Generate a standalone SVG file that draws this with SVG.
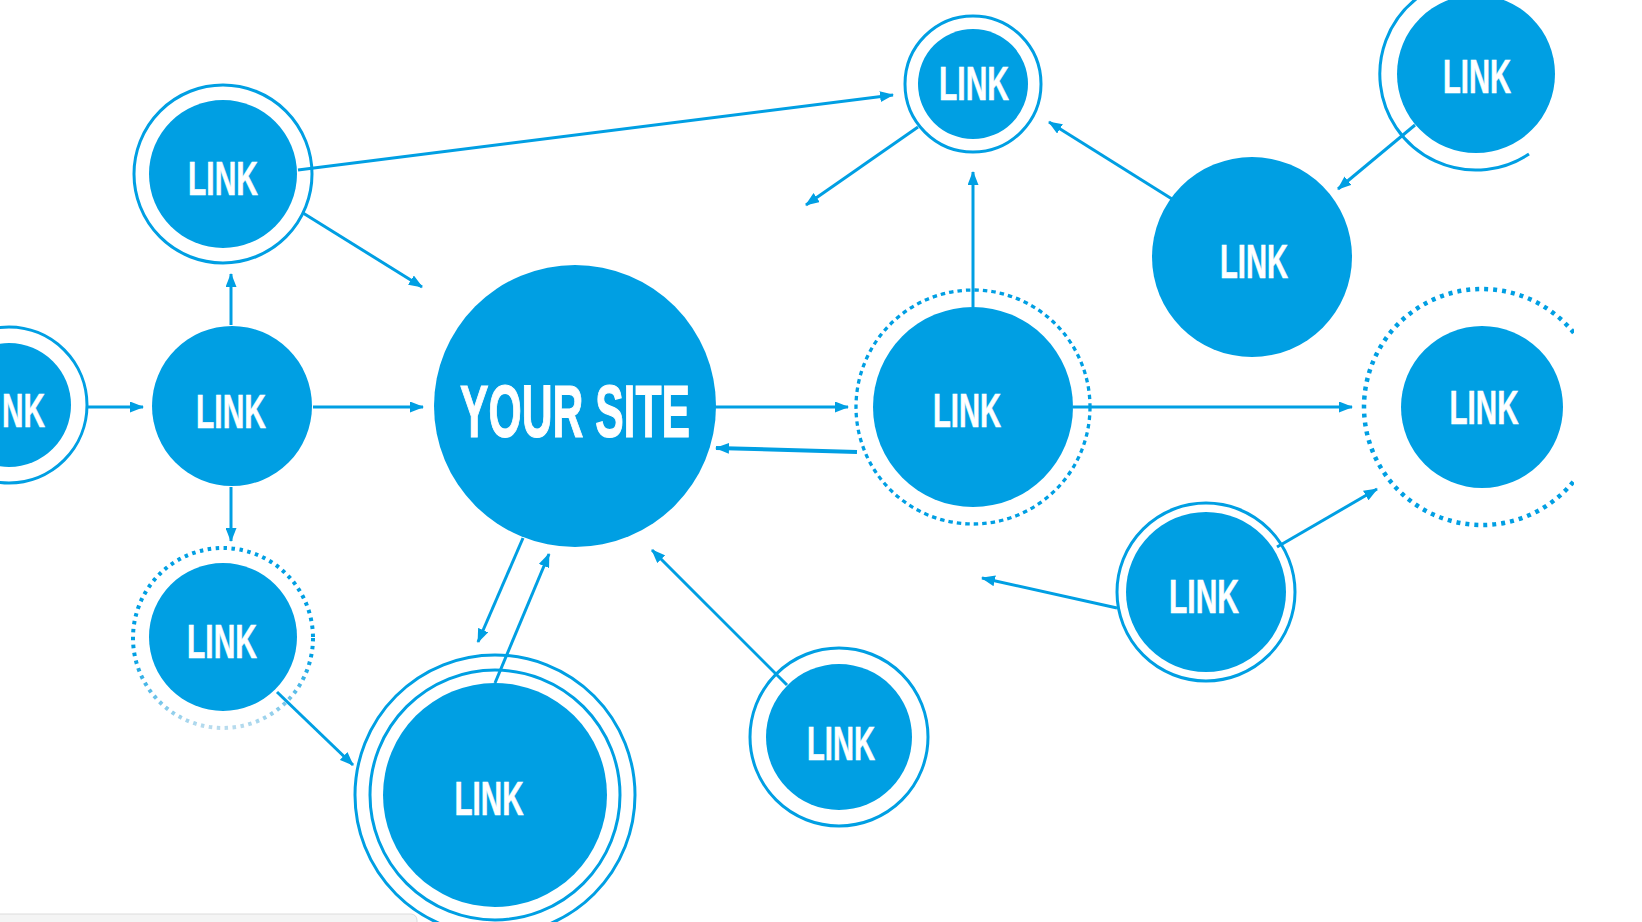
<svg xmlns="http://www.w3.org/2000/svg" width="1642" height="922" viewBox="0 0 1642 922">
  <style>
    .fill { fill: #009fe3; }
    .ring { fill: none; stroke: #009fe3; stroke-width: 3; }
    .dots { fill: none; stroke: #009fe3; stroke-width: 4.5; stroke-dasharray: 4 5; }
    .dash { fill: none; stroke: #009fe3; stroke-width: 3.3; stroke-dasharray: 4.5 4; }
    .lbl { font-family: "Liberation Sans", Arial, sans-serif; font-weight: bold; font-size: 49px; fill: #ffffff; stroke: #ffffff; stroke-width: 0.6; text-anchor: middle; }
    .big { font-size: 75px; stroke-width: 1.2; }
    .conn line { stroke: #009fe3; stroke-width: 3; marker-end: url(#arr); }
  </style>
  <defs>
    <marker id="arr" viewBox="0 0 14 11" refX="13" refY="5.5" markerWidth="14" markerHeight="11" markerUnits="userSpaceOnUse" orient="auto">
      <path d="M0,0 L14,5.5 L0,11 z" fill="#009fe3"/>
    </marker>
    <linearGradient id="fade" x1="0" y1="0" x2="0" y2="1">
      <stop offset="0" stop-color="#009fe3"/>
      <stop offset="0.6" stop-color="#009fe3"/>
      <stop offset="1" stop-color="#b9dcee"/>
    </linearGradient>
    <clipPath id="edge">
      <rect x="0" y="0" width="1574" height="922"/>
    </clipPath>
  </defs>
  <rect x="0" y="0" width="1642" height="922" fill="#ffffff"/>

  <g id="connectors" class="conn">
    <line x1="298" y1="170" x2="893" y2="95"/>
    <line x1="303" y1="213" x2="422" y2="287"/>
    <line x1="231" y1="325" x2="231" y2="274"/>
    <line x1="87" y1="407" x2="143" y2="407"/>
    <line x1="313" y1="407" x2="423" y2="407"/>
    <line x1="231" y1="487" x2="231" y2="541"/>
    <line x1="277" y1="692" x2="353" y2="765"/>
    <line x1="523" y1="538" x2="478" y2="642"/>
    <line x1="495" y1="683" x2="549" y2="554"/>
    <line x1="787" y1="685" x2="652" y2="550"/>
    <line x1="715" y1="407" x2="848" y2="407"/>
    <line x1="857" y1="452" x2="716" y2="448" style="stroke-width:4"/>
    <line x1="973" y1="307" x2="973" y2="172"/>
    <line x1="918" y1="127" x2="806" y2="205"/>
    <line x1="1172" y1="199" x2="1049" y2="122"/>
    <line x1="1415" y1="125" x2="1338" y2="189"/>
    <line x1="1073" y1="407" x2="1352" y2="407"/>
    <line x1="1277" y1="547" x2="1377" y2="489"/>
    <line x1="1117" y1="608" x2="982" y2="578"/>
  </g>

  <g id="node-a">
    <circle class="ring" cx="223" cy="174" r="89"/>
    <circle class="fill" cx="223" cy="174" r="74"/>
    <text class="lbl" x="223" y="195" textLength="70" lengthAdjust="spacingAndGlyphs">LINK</text>
  </g>
  <g id="node-b">
    <circle class="ring" cx="9" cy="405" r="78"/>
    <circle class="fill" cx="9" cy="405" r="62"/>
    <text class="lbl" x="2" y="427" style="text-anchor:start" textLength="43" lengthAdjust="spacingAndGlyphs">NK</text>
  </g>
  <g id="node-c">
    <circle class="fill" cx="232" cy="406" r="80"/>
    <text class="lbl" x="231" y="428" textLength="70" lengthAdjust="spacingAndGlyphs">LINK</text>
  </g>
  <g id="node-your-site">
    <circle class="fill" cx="575" cy="406" r="141"/>
    <text class="lbl big" x="575" y="437" textLength="230" lengthAdjust="spacingAndGlyphs">YOUR SITE</text>
  </g>
  <g id="node-e">
    <circle cx="223" cy="638" r="90" fill="none" stroke="url(#fade)" stroke-width="4" stroke-dasharray="3.5 4.5"/>
    <circle class="fill" cx="223" cy="637" r="74"/>
    <text class="lbl" x="222" y="658" textLength="70" lengthAdjust="spacingAndGlyphs">LINK</text>
  </g>
  <g id="node-f">
    <circle class="ring" cx="495" cy="795" r="140"/>
    <circle class="ring" cx="495" cy="795" r="125"/>
    <circle class="fill" cx="495" cy="795" r="112"/>
    <text class="lbl" x="489" y="815" textLength="69" lengthAdjust="spacingAndGlyphs">LINK</text>
  </g>
  <g id="node-g">
    <circle class="ring" cx="839" cy="737" r="89"/>
    <circle class="fill" cx="839" cy="737" r="73"/>
    <text class="lbl" x="841" y="760" textLength="68" lengthAdjust="spacingAndGlyphs">LINK</text>
  </g>
  <g id="node-h">
    <circle class="ring" cx="1206" cy="592" r="89"/>
    <circle class="fill" cx="1206" cy="592" r="80"/>
    <text class="lbl" x="1204" y="613" textLength="70" lengthAdjust="spacingAndGlyphs">LINK</text>
  </g>
  <g id="node-i">
    <circle class="ring" cx="973" cy="84" r="68"/>
    <circle class="fill" cx="973" cy="84" r="55"/>
    <text class="lbl" x="974" y="100" textLength="70" lengthAdjust="spacingAndGlyphs">LINK</text>
  </g>
  <g id="node-j">
    <path class="ring" d="M1529,154 A96,96 0 1,1 1509,-16"/>
    <circle class="fill" cx="1476" cy="74" r="79"/>
    <text class="lbl" x="1477" y="93" textLength="68" lengthAdjust="spacingAndGlyphs">LINK</text>
  </g>
  <g id="node-k">
    <circle class="fill" cx="1252" cy="257" r="100"/>
    <text class="lbl" x="1254" y="278" textLength="68" lengthAdjust="spacingAndGlyphs">LINK</text>
  </g>
  <g id="node-l">
    <circle class="dash" cx="973" cy="407" r="117"/>
    <circle class="fill" cx="973" cy="407" r="100"/>
    <text class="lbl" x="967" y="427" textLength="68" lengthAdjust="spacingAndGlyphs">LINK</text>
  </g>
  <g id="node-m">
    <circle class="dots" cx="1482" cy="407" r="118" clip-path="url(#edge)"/>
    <circle class="fill" cx="1482" cy="407" r="81"/>
    <text class="lbl" x="1484" y="424" textLength="69" lengthAdjust="spacingAndGlyphs">LINK</text>
  </g>

  <rect x="-6" y="914" width="423" height="14" rx="6" fill="#f4f4f4" stroke="#dcdcdc" stroke-width="1"/>
</svg>
